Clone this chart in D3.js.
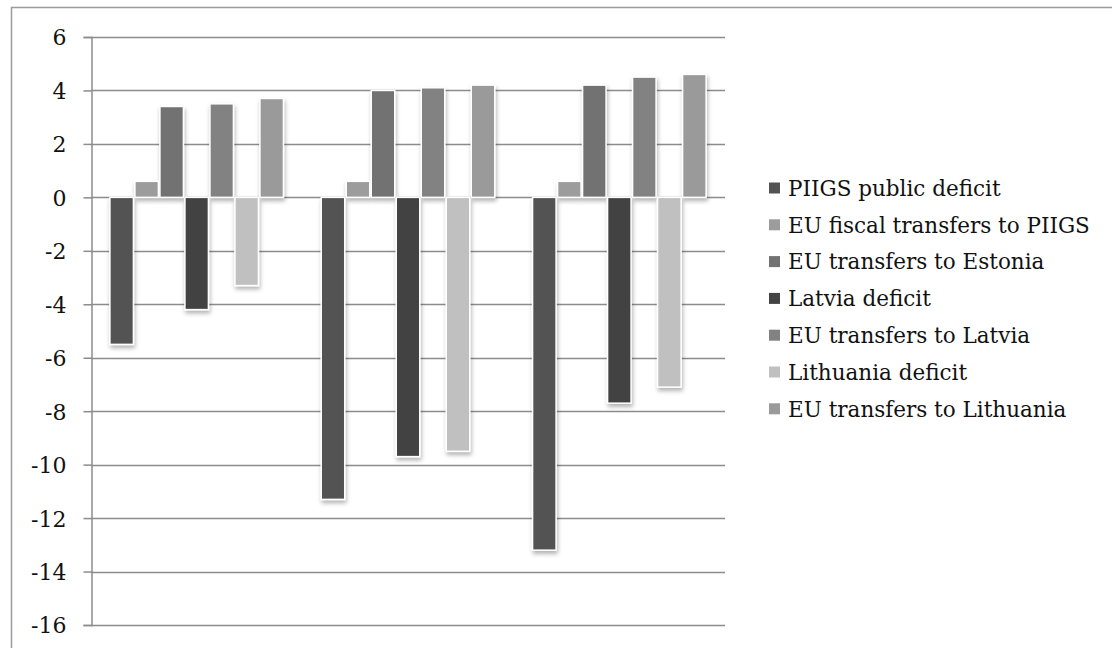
<!DOCTYPE html>
<html>
<head>
<meta charset="utf-8">
<script src="https://cdn.jsdelivr.net/npm/d3@7"></script>
<style>
  html, body { margin: 0; padding: 0; background: #fff; }
  svg { display: block; }
  text { font-family: "DejaVu Serif", serif; fill: #111; }
</style>
</head>
<body>
<svg id="chart" width="1112" height="648"></svg>
<script>
// Period groups (unlabelled in the chart)
const groups = ["A", "B", "C"];

// Series names, in legend order
const seriesNames = [
  "PIIGS public deficit",
  "EU fiscal transfers to PIIGS",
  "EU transfers to Estonia",
  "Latvia deficit",
  "EU transfers to Latvia",
  "Lithuania deficit",
  "EU transfers to Lithuania"
];

// Values per series, one per group (% of GDP)
const piigsDeficit      = [-5.5, -11.3, -13.2];
const euToPiigs         = [0.6, 0.6, 0.6];
const euToEstonia       = [3.4, 4.0, 4.2];
const latviaDeficit     = [-4.2, -9.7, -7.7];
const euToLatvia        = [3.5, 4.1, 4.5];
const lithuaniaDeficit  = [-3.3, -9.5, -7.1];
const euToLithuania     = [3.7, 4.2, 4.6];

const seriesValues = [piigsDeficit, euToPiigs, euToEstonia, latviaDeficit,
                      euToLatvia, lithuaniaDeficit, euToLithuania];

const seriesColors = ["#535353", "#9c9c9c", "#727272", "#434343",
                      "#828282", "#c0c0c0", "#9a9a9a"];

const yTicks = [6, 4, 2, 0, -2, -4, -6, -8, -10, -12, -14, -16];

const svg = d3.select("#chart");

// Drop shadow under the bars
const defs = svg.append("defs");
const f = defs.append("filter").attr("id", "shadow")
  .attr("x", "-30%").attr("y", "-10%").attr("width", "160%").attr("height", "130%");
f.append("feDropShadow").attr("dx", 1).attr("dy", 3).attr("stdDeviation", 2)
  .attr("flood-color", "#000").attr("flood-opacity", 0.3);

// Outer frame
svg.append("rect")
  .attr("x", 11.5).attr("y", 7.5).attr("width", 1200).attr("height", 700)
  .attr("fill", "none").attr("stroke", "#9a9a9a").attr("stroke-width", 1.5);

const plot = { left: 91, right: 725, top: 37, bottom: 625 };

const y = d3.scaleLinear().domain([-16, 6]).range([plot.bottom, plot.top]);
const x0 = d3.scaleBand().domain(groups).range([plot.left, plot.right]).padding(0);
const x1 = d3.scaleBand().domain(d3.range(seriesNames.length))
  .range([0, x0.bandwidth()]).paddingInner(0).paddingOuter(0.726);

// Gridlines
svg.append("g").selectAll("line").data(yTicks).join("line")
  .attr("x1", plot.left).attr("x2", plot.right)
  .attr("y1", d => Math.round(y(d)) + 0.5).attr("y2", d => Math.round(y(d)) + 0.5)
  .attr("stroke", "#8c8c8c").attr("stroke-width", 1.5);

// Y axis, plain hyphen for negatives
const yAxis = d3.axisLeft(y).tickValues(yTicks).tickSize(8).tickPadding(17)
  .tickFormat(d => String(d));
const ag = svg.append("g").attr("transform", `translate(${plot.left + 0.5},0)`).call(yAxis);
ag.select(".domain").attr("stroke", "#8c8c8c").attr("stroke-width", 1.5);
ag.selectAll(".tick line").attr("stroke", "#8c8c8c").attr("stroke-width", 1.5);
ag.selectAll(".tick text").style("font-family", "'DejaVu Serif', serif")
  .style("font-size", "22px").attr("fill", "#111").attr("dy", "0.36em");

// Bars
const rows = [];
groups.forEach((g, gi) => {
  seriesValues.forEach((vals, si) => rows.push({ g, si, v: vals[gi] }));
});

svg.append("g").attr("filter", "url(#shadow)")
  .selectAll("rect").data(rows).join("rect")
  .attr("x", d => x0(d.g) + x1(d.si) + 0.75)
  .attr("width", x1.bandwidth() - 1.5)
  .attr("y", d => y(Math.max(0, d.v)))
  .attr("height", d => Math.abs(y(d.v) - y(0)))
  .attr("fill", d => seriesColors[d.si])
  .attr("stroke", "#fff").attr("stroke-width", 1.5);

// Legend
const legend = svg.append("g");
const lg = legend.selectAll("g").data(seriesNames).join("g")
  .attr("transform", (d, i) => `translate(769, ${188 + i * 36.8})`);
lg.append("rect").attr("x", 0).attr("y", -5.5).attr("width", 11).attr("height", 11)
  .attr("fill", (d, i) => seriesColors[i]);
lg.append("text").attr("x", 19).attr("dy", "0.36em")
  .style("font-family", "'DejaVu Serif', serif").style("font-size", "21.5px")
  .text(d => d);
</script>
</body>
</html>
